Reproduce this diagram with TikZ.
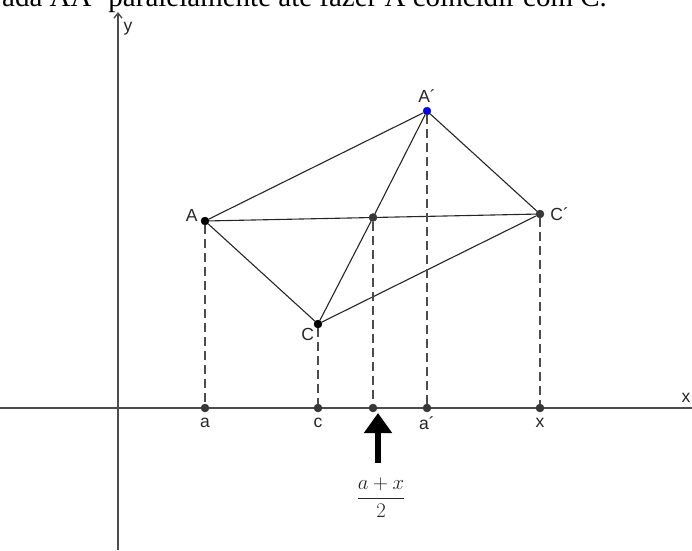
\documentclass[tikz,border=0pt]{standalone}
\usepackage{amsmath}
\usepackage{fontspec}
\setmainfont{Liberation Serif}
\setsansfont{Liberation Sans}
\usetikzlibrary{arrows.meta}
\usetikzlibrary{positioning}

\begin{document}
\begin{tikzpicture}[x=1pt, y=-1pt,
    every label/.style={font=\sffamily\fontsize{17.5}{21}\selectfont, text=black!85, inner sep=3pt},
    pt/.style={circle, draw=black!80, fill=black!78, inner sep=0pt, minimum size=8pt},
    seg/.style={draw=black!85, line width=1.1pt},
    proj/.style={draw=black!70, line width=1.1pt, dash pattern=on 9pt off 5pt},
    axis/.style={draw=black!70, line width=1.4pt}]
        \useasboundingbox (0,0) rectangle (692,550);

        % Cut-off caption line at the top
        \node[anchor=base west, inner sep=0pt, font=\fontsize{29}{34}\selectfont] (caption) at (2,6)
          {ada AA´ paralelamente até fazer A coincidir com C.};

        % Axes
        \coordinate (xl) at (0,408);
        \coordinate (xr) at (692,408);
        \coordinate (yb) at (118,550);
        \coordinate (yt) at (118,12);
        \draw[axis] (xl) -- (xr);
        \draw[axis, -{Straight Barb[length=5pt, width=8pt]}] (yb) -- (yt);
        \node[font=\sffamily\fontsize{17.5}{21}\selectfont, text=black!85] (xlab) at (686,398) {x};
        \node[font=\sffamily\fontsize{17.5}{21}\selectfont, text=black!85] (ylab) at (128,29) {y};

        % Vertices of the two triangles
        \node[pt, fill=black, draw=black, label={[label distance=0pt, yshift=6pt]left:A}] (A) at (205,221) {};
        \node[pt, fill=blue, draw=black!80, label={[label distance=1pt]above:A´}] (Ap) at (427,111) {};
        \node[pt, label={[label distance=3pt]right:C´}] (Cp) at (540,214) {};
        \node[pt, fill=black, draw=black, label={[label distance=-3pt]below left:C}] (C) at (318,324) {};
        \node[pt] (M) at (373,217.5) {};

        \draw[seg] (A) -- (Ap);
        \draw[seg] (Ap) -- (Cp);
        \draw[seg] (Cp) -- (C);
        \draw[seg] (C) -- (A);
        \draw[seg] (A) -- (M) -- (Cp);
        \draw[seg] (C) -- (M) -- (Ap);

        % Projections on the x axis
        \node[pt, label={[label distance=3pt]below:a}] (a) at (205,408) {};
        \node[pt, label={[label distance=3pt]below:c}] (c) at (318,408) {};
        \node[pt] (m) at (373,408) {};
        \node[pt, label={[label distance=1pt]below:a´}] (ap) at (427,408) {};
        \node[pt, label={[label distance=3pt]below:x}] (x) at (540,408) {};

        \foreach \p/\q in {A/a, C/c, M/m, Ap/ap, Cp/x}
        {
          \draw[proj] (\p) -- (\q);
        }

        % Thick arrow to the midpoint
        \coordinate (tip) at (378,413);
        \coordinate (tail) at (378,463);
        \draw[line width=5.5pt, -{Triangle[length=20pt, width=27pt]}] (tail) -- (tip);

        \node[font=\fontsize{20}{24}\selectfont, text=black!85] (frac) at (381,498) {$\dfrac{a+x}{2}$};
      \end{tikzpicture}
\end{document}
